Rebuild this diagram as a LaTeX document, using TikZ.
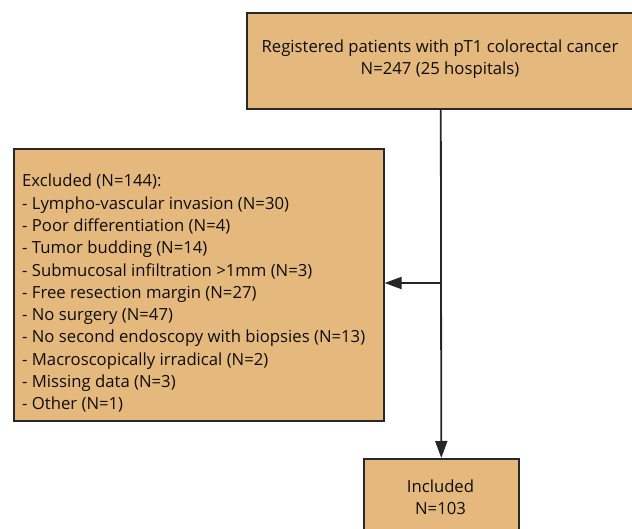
\documentclass[tikz,border=0pt]{standalone}
\usepackage{fontspec}
\setmainfont{Open Sans}
\usetikzlibrary{arrows.meta}
\definecolor{boxfill}{RGB}{229,185,125}
\definecolor{boxline}{RGB}{40,40,40}
\tikzset{
  box/.style={draw=boxline, fill=boxfill, line width=1.6pt, rectangle, inner sep=0pt},
  txt/.style={font=\fontsize{16.7}{22.3}\selectfont, inner sep=0pt, text=black!95},
  conn/.style={draw=black!85, line width=1.8pt},
  arr/.style={conn, -{Triangle[length=17pt,width=12pt]}}
}
\begin{document}
\begin{tikzpicture}[x=1pt,y=-1pt]
\useasboundingbox (0,0) rectangle (632,529);
% top box
\node[box, anchor=north west, minimum width=388pt, minimum height=96pt] (reg) at (246,12) {};
\node[txt, align=center] (regtxt) at (440,59) {Registered patients with pT1 colorectal cancer\\N=247 (25 hospitals)};
% excluded box
\node[box, anchor=north west, minimum width=370pt, minimum height=272pt] (excl) at (13,148) {};
\node[txt, align=left, anchor=north west] (excltxt) at (22,174) {Excluded (N=144):\\
- Lympho-vascular invasion (N=30)\\
- Poor differentiation (N=4)\\
- Tumor budding (N=14)\\
- Submucosal infiltration >1mm (N=3)\\
- Free resection margin (N=27)\\
- No surgery (N=47)\\
- No second endoscopy with biopsies (N=13)\\
- Macroscopically irradical (N=2)\\
- Missing data (N=3)\\
- Other (N=1)};
% included box
\node[box, anchor=north west, minimum width=155pt, minimum height=80pt] (inc) at (363,458) {};
\node[txt, align=center] (inctxt) at (440.5,497) {Included\\N=103};
% connectors
\coordinate (branch) at (reg.south |- 0,283);
\draw[arr] (reg.south) -- (inc.north);
\draw[arr] (branch) -- (excl.east |- branch);
\end{tikzpicture}
\end{document}
